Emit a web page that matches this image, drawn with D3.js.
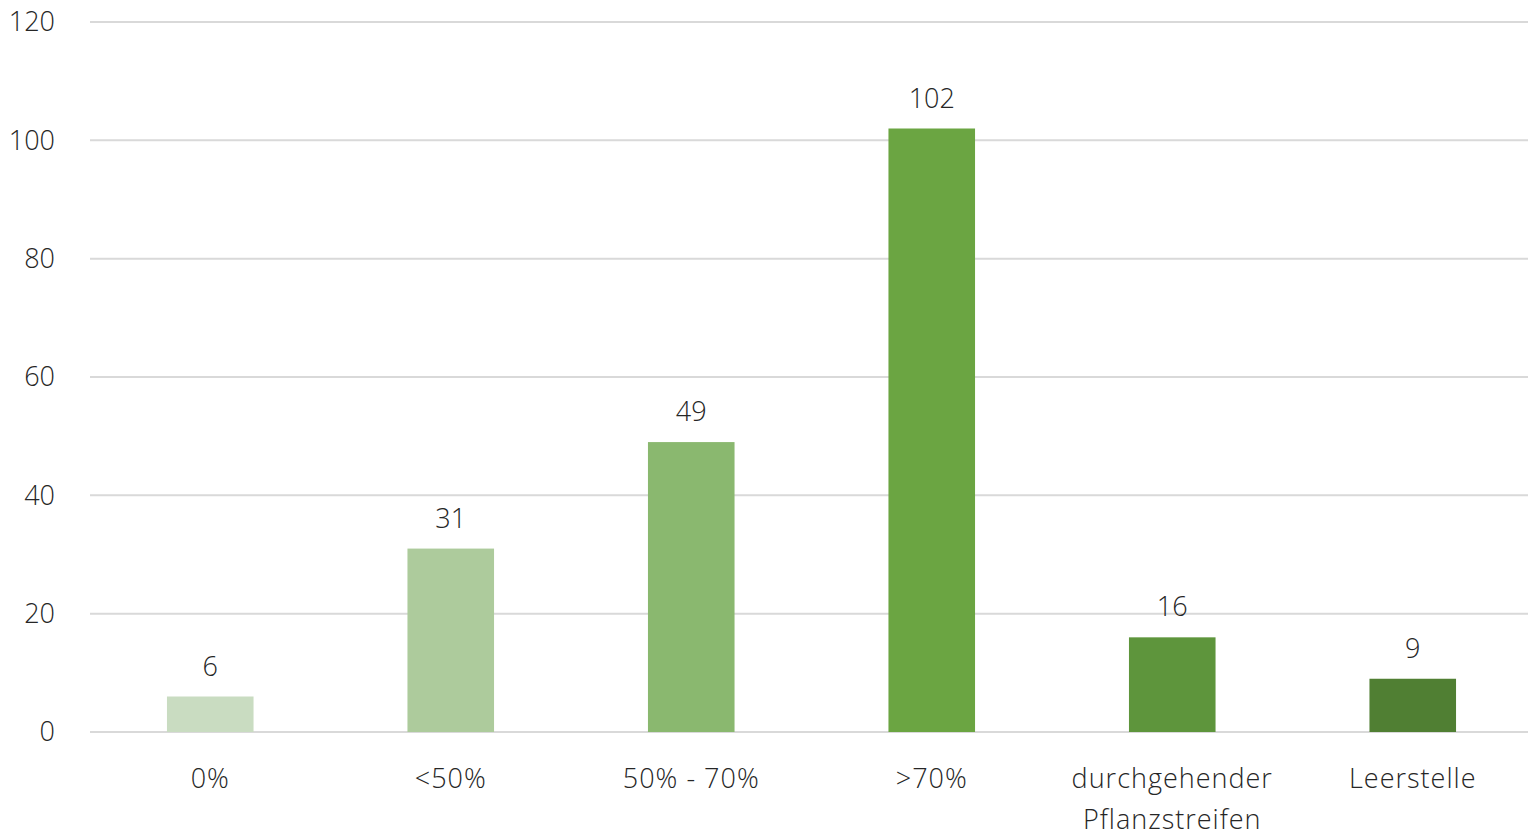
<!DOCTYPE html>
<html><head><meta charset="utf-8">
<script src="https://cdn.jsdelivr.net/npm/d3@7"></script>
<style>body{margin:0;background:#fff}svg{display:block}text{font-family:"Open Sans",sans-serif;font-weight:300;fill:#262626}</style>
</head><body><svg id="c" width="1528" height="838"></svg>
<script>
const categories = ["0%", "<50%", "50% - 70%", ">70%", "durchgehender Pflanzstreifen", "Leerstelle"];
const labelLines = [["0%"], ["<50%"], ["50% - 70%"], [">70%"], ["durchgehender", "Pflanzstreifen"], ["Leerstelle"]];
const values = [6, 31, 49, 102, 16, 9];
const colors = ["#c9dcc1", "#adcb9c", "#8ab86f", "#6ba542", "#5e953c", "#507f33"];
const yTicks = [0, 20, 40, 60, 80, 100, 120];

const svg = d3.select("#c");
const x = d3.scaleBand().domain(categories).range([90, 1533]).paddingInner(0.64).paddingOuter(0.32);
const y = d3.scaleLinear().domain([0, 120]).range([732, 22]);

svg.append("g").selectAll("line").data(yTicks).join("line")
  .attr("x1", 90).attr("x2", 1528).attr("y1", d => y(d)).attr("y2", d => y(d))
  .attr("stroke", "#d9d9d9").attr("stroke-width", 2);

svg.append("g").selectAll("text").data(yTicks).join("text")
  .attr("x", 55).attr("y", d => y(d)).attr("dy", "0.35em").attr("text-anchor", "end")
  .attr("font-size", 27).text(d => d);

svg.append("g").selectAll("rect").data(values).join("rect")
  .attr("x", (d, i) => x(categories[i])).attr("width", x.bandwidth())
  .attr("y", d => y(d)).attr("height", d => y(0) - y(d)).attr("fill", (d, i) => colors[i]);

svg.append("g").selectAll("text").data(values).join("text")
  .attr("x", (d, i) => x(categories[i]) + x.bandwidth() / 2).attr("y", d => y(d) - 21)
  .attr("text-anchor", "middle").attr("font-size", 27).text(d => d);

const lg = svg.append("g").selectAll("text").data(labelLines).join("text")
  .attr("x", (d, i) => x(categories[i]) + x.bandwidth() / 2).attr("y", 788)
  .attr("text-anchor", "middle").attr("font-size", 27).attr("letter-spacing", 1);
lg.selectAll("tspan").data(d => d).join("tspan")
  .attr("x", function() { return this.parentNode.getAttribute("x"); })
  .attr("dy", (d, j) => j === 0 ? 0 : 41).text(d => d);
</script></body></html>
